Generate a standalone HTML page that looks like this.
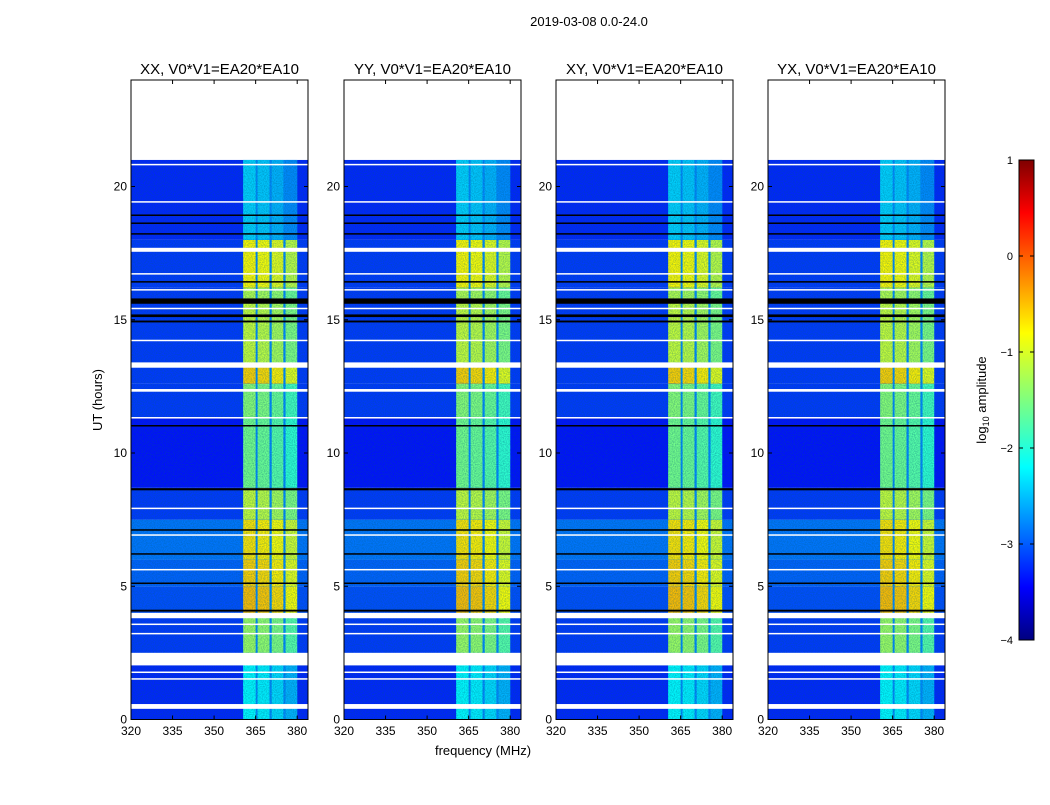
<!DOCTYPE html>
<html><head><meta charset="utf-8"><style>
body{margin:0;background:#fff;font-family:"Liberation Sans",sans-serif}
svg text{font-family:"Liberation Sans",sans-serif}
</style></head><body>
<svg id="fig" width="1050" height="800" xmlns="http://www.w3.org/2000/svg">
<defs>
<linearGradient id="jet" x1="0" y1="1" x2="0" y2="0">
<stop offset="0" stop-color="#00007f"/><stop offset="0.11" stop-color="#0000ff"/>
<stop offset="0.36" stop-color="#00ffff"/><stop offset="0.5" stop-color="#7fff7f"/>
<stop offset="0.64" stop-color="#ffff00"/><stop offset="0.89" stop-color="#ff0000"/>
<stop offset="1" stop-color="#7f0000"/></linearGradient>
<filter id="speck" x="0" y="0" width="1" height="1"><feTurbulence type="fractalNoise" baseFrequency="0.9" numOctaves="1" seed="3"/><feColorMatrix values="0 0 0 0 0  0 0 0 0 0.1  0 0 0 0 0.2  0 0 0 -1.6 1.1"/><feComposite in2="SourceGraphic" operator="in"/></filter>
</defs>
<text x="589" y="26" font-size="13" text-anchor="middle">2019-03-08 0.0-24.0</text>
<text x="483" y="755" font-size="13" text-anchor="middle">frequency (MHz)</text>
<text x="102" y="400" font-size="13" text-anchor="middle" transform="rotate(-90 102 400)">UT (hours)</text>
<g id="panels"></g>
<g>
<rect x="1019" y="160" width="15" height="480" fill="url(#jet)" stroke="#000" stroke-width="1"/>
<g id="cbticks"></g>
<text x="986" y="400" font-size="13" text-anchor="middle" transform="rotate(-90 986 400)">log<tspan font-size="9" dy="3">10</tspan><tspan dy="-3"> amplitude</tspan></text>
</g>
</svg>
<script>
const titles=["XX, V0*V1=EA20*EA10","YY, V0*V1=EA20*EA10","XY, V0*V1=EA20*EA10","YX, V0*V1=EA20*EA10"];
const panelX=[131,344,556,768];
const yTicks=[0,5,10,15,20];
const xTicks=[320,335,350,365,380];
const cbTicks=[1,0,-1,-2,-3,-4];
// time bands: start hour, end hour, background level, RFI level
const bandStart=[0,2.5,4.0,5.0,6.0,7.5,8.7,11.3,12.6,13.3,15.7,16.2,18.0];
const bandEnd=[2.5,4.0,5.0,6.0,7.5,8.7,11.3,12.6,13.3,15.7,16.2,18.0,21.0];
const bgLevel=[-3.2,-3.1,-3.0,-2.9,-2.8,-3.1,-3.3,-3.1,-3.1,-3.1,-3.1,-3.1,-3.2];
const rfiLevel=[-2.2,-1.4,-0.6,-0.7,-0.8,-1.2,-1.6,-1.5,-0.7,-1.2,-1.3,-0.9,-2.4];
// RFI sub-columns in MHz
const colStart=[360.5,365.7,370.8,375.8];
const colEnd=[365.0,370.0,375.0,380.0];
const colOffset=[0.05,0.0,-0.1,-0.3];
// gaps (white) and dropouts (black) in hours
const whiteStart=[0.4,1.5,1.75,2.03,3.2,3.55,3.8,5.6,6.9,7.9,11.3,12.3,13.2,14.2,15.4,16.1,16.7,17.55,19.4,20.8];
const whiteEnd=[0.58,1.55,1.8,2.5,3.25,3.6,4.0,5.65,6.95,7.95,11.35,12.4,13.4,14.25,15.45,16.15,16.75,17.7,19.45,20.85];
const blackStart=[4.05,5.1,6.2,7.1,8.6,11.0,14.9,15.1,15.6,16.4,18.2,18.6,18.9];
const blackEnd=[4.12,5.14,6.24,7.14,8.68,11.05,14.97,15.2,15.8,16.45,18.25,18.65,18.95];
function jet(v){let t=(v+4)/5;t=Math.max(0,Math.min(1,t));
 const r=Math.max(0,Math.min(1,1.5-Math.abs(4*t-3))),g=Math.max(0,Math.min(1,1.5-Math.abs(4*t-2))),b=Math.max(0,Math.min(1,1.5-Math.abs(4*t-1)));
 return `rgb(${Math.round(r*255)},${Math.round(g*255)},${Math.round(b*255)})`;}
const NS="http://www.w3.org/2000/svg";
function el(tag,a,p){const e=document.createElementNS(NS,tag);for(const k in a)e.setAttribute(k,a[k]);p.appendChild(e);return e;}
const yTop=80,yBot=719.5,W=177;
const yS=h=>719.5-h*26.65;
const G=document.getElementById('panels');
panelX.forEach((px,i)=>{
 const xS=f=>px+(f-320)*2.77;
 const g=el('g',{},G);
 
 
 const cl=el('clipPath',{id:'c'+i},g);el('rect',{x:px,y:yTop,width:W,height:yBot-yTop},cl);
 const d=el('g',{'clip-path':`url(#c${i})`},g);
 for(let b=0;b<bandStart.length;b++){
  const y0=yS(bandEnd[b]),y1=yS(bandStart[b]);
  const r=el('rect',{x:px,y:y0,width:W,height:y1-y0,fill:jet(bgLevel[b])},d);
  
  
  el('rect',{x:xS(360.5),y:y0,width:xS(380)-xS(360.5),height:y1-y0,fill:jet(-2.7)},d);
  for(let c=0;c<colStart.length;c++){
   const rr=el('rect',{x:xS(colStart[c]),y:y0,width:xS(colEnd[c])-xS(colStart[c]),height:y1-y0,fill:jet(rfiLevel[b]+colOffset[c])},d);
   
   
  }
 }
 el('rect',{x:px,y:yS(21),width:W,height:yS(0)-yS(21),fill:'#000',filter:'url(#speck)',opacity:0.5},d);
 for(let k=0;k<whiteStart.length;k++){const y0=yS(whiteEnd[k]);el('rect',{x:px,y:y0,width:W,height:Math.max(1.5,yS(whiteStart[k])-y0),fill:'#fff'},d);}
 for(let k=0;k<blackStart.length;k++){const y0=yS(blackEnd[k]);el('rect',{x:px,y:y0,width:W,height:Math.max(1.5,yS(blackStart[k])-y0),fill:'#000'},d);}
 el('rect',{x:px,y:yTop,width:W,height:yS(21)-yTop,fill:'#fff'},d);
 el('rect',{x:px,y:yTop,width:W,height:yBot-yTop,fill:'none',stroke:'#000','stroke-width':1},g);
 const t=el('text',{x:px+W/2,y:74,'font-size':15,'text-anchor':'middle'},g);t.textContent=titles[i];
 
 
 yTicks.forEach(v=>{const y=yS(v);el('line',{x1:px,x2:px+4,y1:y,y2:y,stroke:'#000'},g);el('line',{x1:px+W-4,x2:px+W,y1:y,y2:y,stroke:'#000'},g);
  const l=el('text',{x:px-4,y:y+4,'font-size':12,'text-anchor':'end'},g);l.textContent=v;
  
  });
 xTicks.forEach(v=>{const x=xS(v);el('line',{x1:x,x2:x,y1:yBot,y2:yBot-4,stroke:'#000'},g);el('line',{x1:x,x2:x,y1:yTop,y2:yTop+4,stroke:'#000'},g);
  const l=el('text',{x:x,y:735,'font-size':12,'text-anchor':'middle'},g);l.textContent=v;
  
  });
});
const CB=document.getElementById('cbticks');
cbTicks.forEach(v=>{const y=160+(1-v)*96;el('line',{x1:1019,x2:1023,y1:y,y2:y,stroke:'#000'},CB);el('line',{x1:1030,x2:1034,y1:y,y2:y,stroke:'#000'},CB);
 const l=el('text',{x:1013,y:y+4,'font-size':11,'text-anchor':'end'},CB);l.textContent=v<0?'\u2212'+(-v):v;
 
 });
</script>
</body></html>
